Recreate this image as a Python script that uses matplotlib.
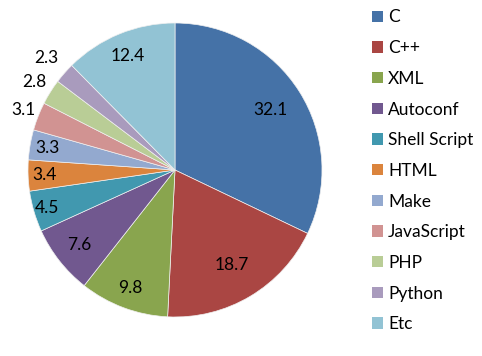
import matplotlib
matplotlib.use("Agg")
import matplotlib.pyplot as plt
import numpy as np

categories = ["C", "C++", "XML", "Autoconf", "Shell Script", "HTML", "Make",
              "JavaScript", "PHP", "Python", "Etc"]
values = [32.1, 18.7, 9.8, 7.6, 4.5, 3.4, 3.3, 3.1, 2.8, 2.3, 12.4]
value_labels = ["32.1", "18.7", "9.8", "7.6", "4.5", "3.4", "3.3", "3.1", "2.8", "2.3", "12.4"]
colors = ["#4572A7", "#AA4643", "#89A54E", "#71588F", "#4198AF", "#DB843D",
          "#93A9CF", "#D19392", "#B9CD96", "#A99BBD", "#92C3D4"]
label_radius = [0.77, 0.75, 0.86, 0.83, 0.91, 0.89, 0.88, 1.11, 1.13, 1.16, 0.84]

plt.rcParams['font.family'] = ['Lato', 'DejaVu Sans']

fig = plt.figure(figsize=(4.82, 3.56), dpi=100)
fig.patch.set_facecolor("white")
ax = fig.add_axes([28/482, 39/356, 294/482, 294/356])

wedges, _ = ax.pie(values, colors=colors, startangle=90, counterclock=False,
                   wedgeprops=dict(edgecolor="#f0f0f0", linewidth=0.5))
ax.set_xlim(-1, 1)
ax.set_ylim(-1, 1)
ax.set_aspect("equal")

for w, lab, r in zip(wedges, value_labels, label_radius):
    ang = np.deg2rad((w.theta1 + w.theta2) / 2)
    ax.text(r * np.cos(ang), r * np.sin(ang), lab, ha="center", va="center",
            fontsize=12.5, color="black", clip_on=False)

leg = fig.legend(wedges, categories, loc="upper left",
                 bbox_to_anchor=(372/482, 1 - 9.5/356), frameon=False,
                 fontsize=12.5, handlelength=0.63, handleheight=0.63,
                 handletextpad=0.29, labelspacing=0.845, borderaxespad=0,
                 borderpad=0)
for h in leg.legend_handles:
    h.set_edgecolor("none")

fig.savefig("out.png", dpi=100, facecolor="white")
